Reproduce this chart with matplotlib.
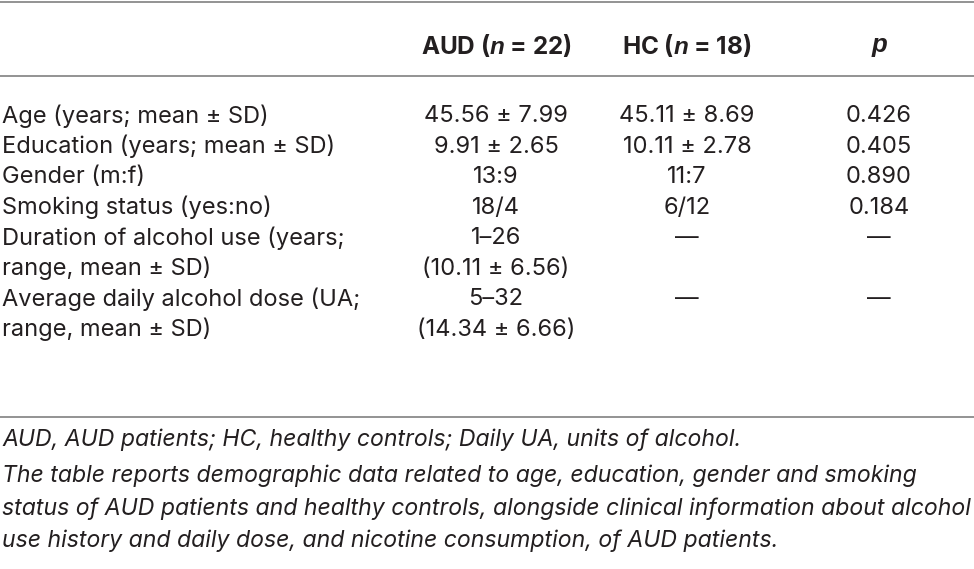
import matplotlib.pyplot as plt

# table contents
headers = ["AUD (n = 22)", "HC (n = 18)", "p"]
row_labels = [
    "Age (years; mean ± SD)",
    "Education (years; mean ± SD)",
    "Gender (m:f)",
    "Smoking status (yes:no)",
    "Duration of alcohol use (years;",
    "range, mean ± SD)",
    "Average daily alcohol dose (UA;",
    "range, mean ± SD)",
]
aud_vals = ["45.56 ± 7.99", "9.91 ± 2.65", "13:9", "18/4", "1–26", "(10.11 ± 6.56)", "5–32", "(14.34 ± 6.66)"]
hc_vals = ["45.11 ± 8.69", "10.11 ± 2.78", "11:7", "6/12", "—", "", "—", ""]
p_vals = ["0.426", "0.405", "0.890", "0.184", "—", "", "—", ""]
footnotes = [
    "AUD, AUD patients; HC, healthy controls; Daily UA, units of alcohol.",
    "The table reports demographic data related to age, education, gender and smoking",
    "status of AUD patients and healthy controls, alongside clinical information about alcohol",
    "use history and daily dose, and nicotine consumption, of AUD patients.",
]

plt.rcParams['font.family'] = ['Inter', 'DejaVu Sans']
plt.rcParams['mathtext.fontset'] = 'custom'
plt.rcParams['mathtext.bfit'] = 'Liberation Sans:bold:italic'

W, H = 974, 569
fig = plt.figure(figsize=(W / 100, H / 100), dpi=100)
ax = fig.add_axes([0, 0, 1, 1])
ax.set_xlim(0, W)
ax.set_ylim(H, 0)
ax.axis("off")

fs = 17          # body
fs_head = 17.5   # header row
fs_note = 16.6   # footnotes
txt_col = "#231f20"
col_x = [496, 687, 879]
line_col = "#8a8a8a"

for y in [2, 76, 417]:
    ax.plot([0, W], [y, y], color=line_col, lw=1.3)

# header: bold, with italic n and p
ax.text(col_x[0], 45, r"AUD ($\mathbfit{n}$ = 22)", ha="center", va="center", fontsize=fs_head, fontweight="bold", color=txt_col)
ax.text(col_x[1], 45, r"HC ($\mathbfit{n}$ = 18)", ha="center", va="center", fontsize=fs_head, fontweight="bold", color=txt_col)
ax.text(col_x[2], 45, headers[2], ha="center", va="center", fontsize=fs_head + 1, fontweight="bold", style="italic",
        family="Liberation Sans", color=txt_col)

row_y0, row_dy = 116, 30.5
for i, lab in enumerate(row_labels):
    y = row_y0 + i * row_dy
    ax.text(2, y, lab, ha="left", va="center", fontsize=fs, color=txt_col)
    for x, vals in zip(col_x, [aud_vals, hc_vals, p_vals]):
        ax.text(x, y, vals[i], ha="center", va="center", fontsize=fs, color=txt_col)

foot_y = [440, 476, 509, 541]
for y, t in zip(foot_y, footnotes):
    ax.text(2, y, t, ha="left", va="center", fontsize=fs_note, style="italic", color=txt_col)

fig.savefig("out.png", dpi=100)
